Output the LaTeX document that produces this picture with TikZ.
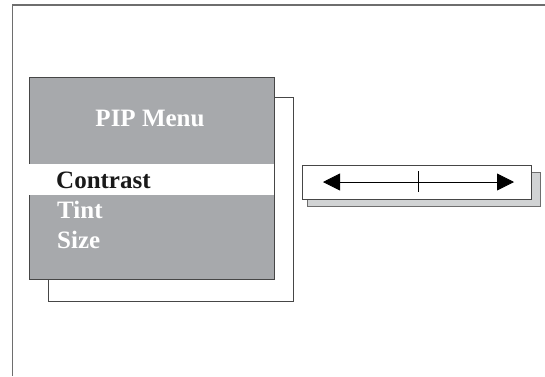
\documentclass[tikz,border=0pt]{standalone}
\usepackage{fontspec}
\setmainfont{Liberation Serif}
\usepackage{xcolor}
\usetikzlibrary{arrows.meta,positioning}

\definecolor{menugray}{RGB}{167,169,172}
\definecolor{shadowgray}{RGB}{209,211,212}
\definecolor{edgegray}{RGB}{70,70,70}
\definecolor{framegray}{RGB}{110,110,110}

\begin{document}
\begin{tikzpicture}[x=1pt, y=-1pt]

			\tikzset{
				menufont/.style={font=\fontsize{25}{30}\selectfont\bfseries, inner sep=0pt},
				menuitem/.style={menufont, anchor=base west, text=white},
				plainbox/.style={draw=edgegray, line width=0.9pt, anchor=north west, inner sep=0pt},
			}
			\useasboundingbox (0,0) rectangle (545,376);

			% outer frame (only top and left edges show)
			\draw[framegray, line width=1.2pt] (545,5) -- (12.5,5) -- (12.5,376);

			% back outline of the menu window
			\node[plainbox, fill=white, minimum width=245pt, minimum height=204pt] (backbox) at (48,97) {};

			% gray menu window
			\node[plainbox, fill=menugray, minimum width=245pt, minimum height=202pt] (menubox) at (29,77) {};

			% highlight band for the selected item
			\node[fill=white, anchor=north west, inner sep=0pt, minimum width=245pt, minimum height=31pt] (selband) at (29,164) {};

			% menu texts
			\node[menufont, anchor=base, text=white] (title) at (150,126) {PIP Menu};
			\node[menuitem, text=black!90] (contrast) at (56,188) {Contrast};
			\node[menuitem] (tint) at (57,218) {Tint};
			\node[menuitem] (size) at (57,248) {Size};

			% slider bar with its shadow
			\node[plainbox, draw=framegray, fill=shadowgray, minimum width=233pt, minimum height=34pt] (slidershadow) at (307,172) {};
			\node[plainbox, fill=white, minimum width=229pt, minimum height=34pt] (slider) at (302,165) {};

			% arrow and middle mark
			\coordinate (arrowL) at (323,182);
			\coordinate (arrowR) at (514,182);
			\coordinate (markT) at (418,171);
			\coordinate (markB) at (418,192);
			\draw[black, line width=0.8pt, {Triangle[length=17pt,width=17pt]}-{Triangle[length=17pt,width=17pt]}] (arrowL) -- (arrowR);
			\draw[black, line width=0.8pt] (markT) -- (markB);

\end{tikzpicture}
\end{document}
